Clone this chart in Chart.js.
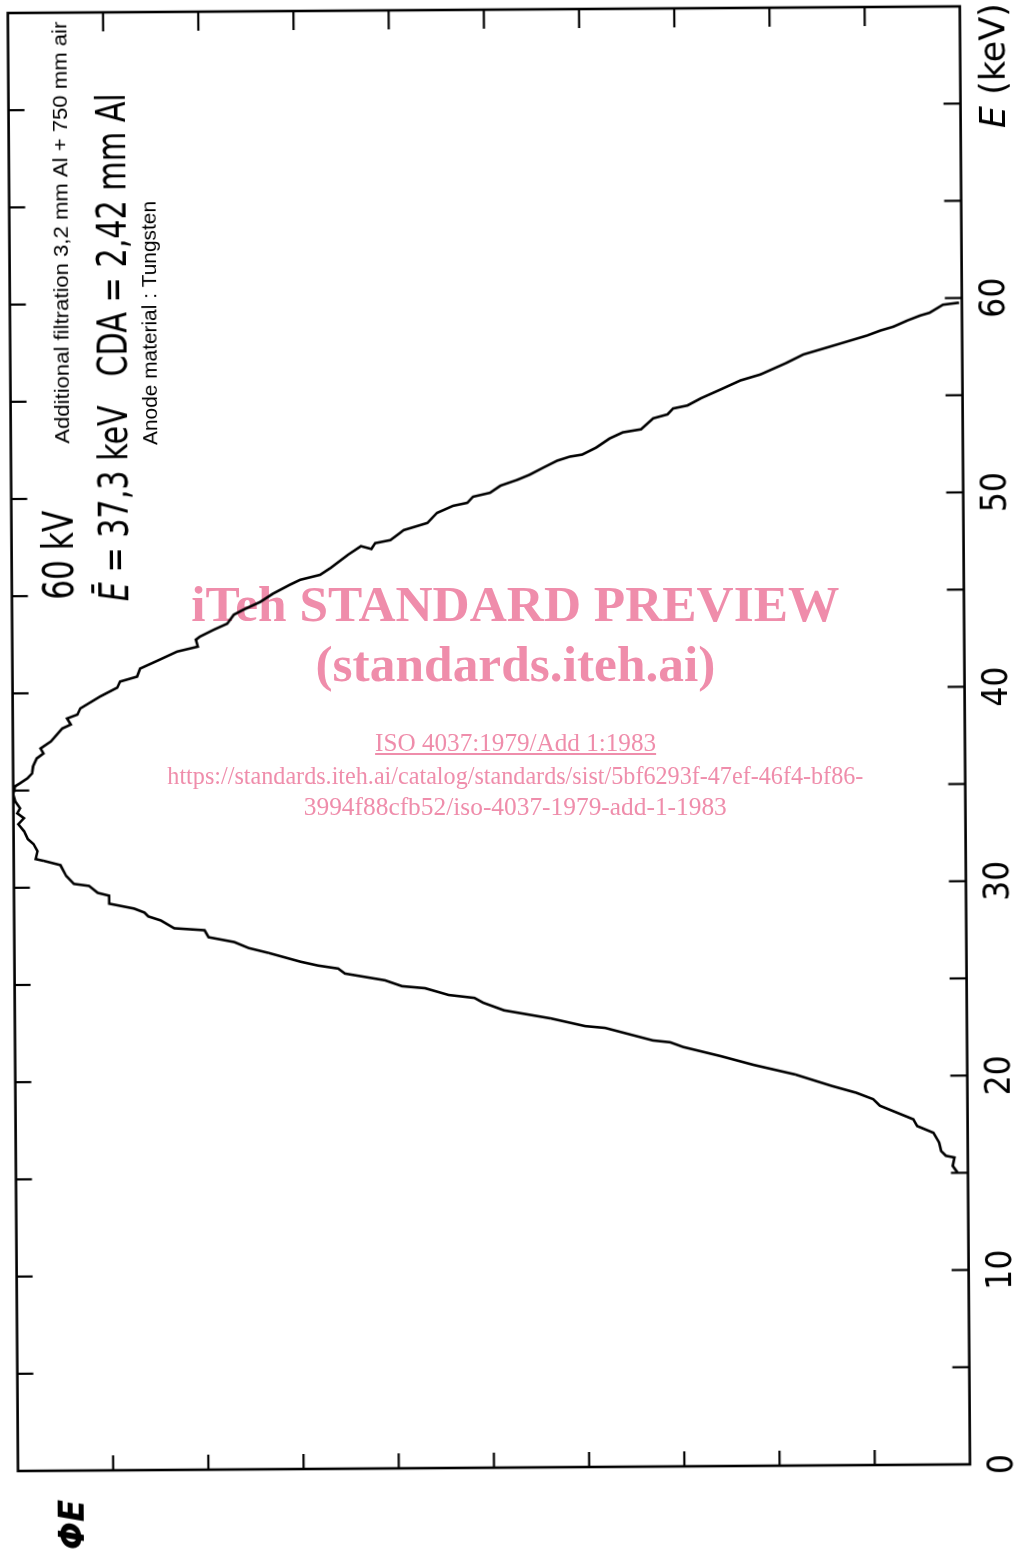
<!DOCTYPE html>
<html>
<head>
<meta charset="utf-8">
<script src="https://cdn.jsdelivr.net/npm/chart.js@4.4.1/dist/chart.umd.min.js"></script>
<style>
html,body{margin:0;padding:0;width:1018px;height:1555px;overflow:hidden;background:#fff;}
#rot{position:absolute;left:0;top:0;width:1555px;height:1040px;transform-origin:0 0;transform:translate(0px,1556.13px) rotate(-90.4deg);}
#c{display:block;width:1555px;height:1040px;}
#wm{position:absolute;left:0;top:0;width:1018px;height:1555px;pointer-events:none;mix-blend-mode:multiply;color:#EF8DAB;font-family:'Liberation Serif','Times New Roman',serif;z-index:2;}
.wl{position:absolute;left:0;width:1031px;text-align:center;white-space:nowrap;line-height:1;}
.wl span{display:inline-block;transform-origin:50% 50%;}
</style>
</head>
<body>
<div id="rot"><canvas id="c" width="1555" height="1040"></canvas></div>
<div id="wm">
  <div class="wl" style="top:579px;font-size:50px;font-weight:bold" data-w="648"><span>iTeh STANDARD PREVIEW</span></div>
  <div class="wl" style="top:639px;font-size:50px;font-weight:bold" data-w="400"><span>(standards.iteh.ai)</span></div>
  <div class="wl" style="top:730px;font-size:25px;" data-w="281"><span style="text-decoration:underline">ISO 4037:1979/Add 1:1983</span></div>
  <div class="wl" style="top:763px;font-size:25px;" data-w="696"><span>https://standards.iteh.ai/catalog/standards/sist/5bf6293f-47ef-46f4-bf86-</span></div>
  <div class="wl" style="top:794px;font-size:25px;" data-w="423"><span>3994f88cfb52/iso-4037-1979-add-1-1983</span></div>
</div>
<script>
// ---- data (E in keV, PhiE in relative units 0..10) ----
const energyKeV = [
15.02,15.36,15.79,15.88,16.13,16.56,17.07,17.42,17.77,18.48,18.82,19.16,19.51,20.12,20.62,21.09,21.57,21.82,21.92,22.58,22.68,23.09,23.52,23.92,
24.17,24.33,24.69,24.80,25.11,25.47,25.73,25.89,26.09,26.56,26.82,27.13,27.39,27.75,27.86,28.27,28.48,28.68,28.89,29.15,29.56,29.71,30.07,30.18,30.59,31.15,
31.37,31.47,31.88,32.24,32.50,32.91,33.27,33.58,33.83,34.09,34.45,34.81,35.22,35.37,35.63,35.88,36.24,36.65,36.90,
37.16,37.52,38.18,38.38,38.69,38.89,39.20,39.81,40.26,40.57,40.82,41.23,41.69,42.09,42.34,42.70,42.85,43.21,43.51,43.97,44.22,44.62,45.03,45.49,45.74,45.99,
46.34,47.00,47.45,47.30,47.60,47.75,48.11,48.26,48.62,49.13,49.49,49.64,49.95,50.15,50.51,50.81,51.07,51.42,51.78,51.98,52.08,52.44,52.90,53.21,
53.36,53.92,54.12,54.42,54.57,54.93,55.38,55.84,56.14,56.74,57.15,57.50,57.70,58.10,58.35,58.55,58.85,59.11,59.25,59.66,59.76
];
const phiE = [
0.11,0.16,0.14,0.23,0.28,0.30,0.36,0.53,0.57,0.92,0.99,1.17,1.42,1.81,2.24,2.59,2.98,3.12,3.30,3.80,4.01,4.37,4.86,5.08,
5.17,5.44,5.69,5.93,6.11,6.53,6.60,6.81,6.99,7.33,7.54,7.69,7.96,8.00,8.32,8.46,8.59,8.63,8.74,9.00,9.00,9.12,9.21,9.37,9.45,9.51,
9.68,9.77,9.75,9.79,9.85,9.89,9.95,9.89,9.96,9.93,9.98,10.0,9.98,9.93,9.85,9.80,9.79,9.75,9.68,
9.71,9.60,9.48,9.39,9.43,9.32,9.29,9.08,8.90,8.87,8.69,8.66,8.45,8.27,8.05,8.07,8.03,7.88,7.74,7.67,7.57,7.39,7.26,7.08,6.97,6.76,
6.65,6.47,6.33,6.22,6.18,6.02,5.92,5.88,5.63,5.53,5.36,5.21,5.15,4.97,4.86,4.68,4.55,4.41,4.26,4.13,4.00,3.85,3.71,3.57,
3.38,3.25,3.10,3.04,2.89,2.75,2.54,2.33,2.12,1.84,1.67,1.42,1.28,1.00,0.86,0.72,0.58,0.44,0.34,0.20,0.03
];
const eAxisMin = 0, eAxisMax = 75, eTickStep = 5;
const eTickLabels = [0, 10, 20, 30, 40, 50, 60];
const phiAxisMin = 0, phiAxisMax = 10, phiTickStep = 1;
const eAxisTitle = ['E', ' (keV)'];
const phiAxisTitle = 'ΦE';
const noteVoltage = '60 kV';
const noteMean = ['Ē', ' = 37,3 keV   CDA = 2,42 mm Al'];
const noteFiltration = 'Additional filtration 3,2 mm Al + 750 mm air';
const noteAnode = 'Anode material : Tungsten';

// ---- watermark fitting ----
document.querySelectorAll('.wl').forEach(d => {
  const s = d.querySelector('span');
  const w = s.getBoundingClientRect().width;
  const t = parseFloat(d.dataset.w);
  if (w > 0) s.style.transform = 'scaleX(' + (t / w) + ')';
});

const points = energyKeV.map((e, i) => ({x: e, y: phiE[i]}));

function drawRuns(ctx, runs, x, y, target) {
  let w = 0;
  runs.forEach(r => { ctx.font = r.font; r.w = ctx.measureText(r.text).width; w += r.w; });
  const s = target ? target / w : 1;
  ctx.save();
  ctx.translate(x, y);
  ctx.scale(s, 1);
  let cx = 0;
  runs.forEach(r => { ctx.font = r.font; ctx.fillText(r.text, cx, 0); cx += r.w; });
  ctx.restore();
}

const framePlugin = {
  id: 'frameTicks',
  afterDatasetsDraw(chart) {
    const {ctx, chartArea: a, scales: {x, y}} = chart;
    ctx.save();
    ctx.strokeStyle = '#000';
    ctx.lineCap = 'butt';
    ctx.lineWidth = 2.6;
    ctx.strokeRect(a.left, a.top, a.right - a.left, a.bottom - a.top);
    ctx.lineWidth = 2.2;
    const ln = (x1, y1, x2, y2) => { ctx.beginPath(); ctx.moveTo(x1, y1); ctx.lineTo(x2, y2); ctx.stroke(); };
    x.ticks.forEach(t => {
      if (t.value <= eAxisMin || t.value >= eAxisMax) return;
      const px = x.getPixelForValue(t.value);
      ln(px, a.bottom, px, a.bottom - 17);
      ln(px, a.top, px, a.top + 16);
    });
    y.ticks.forEach(t => {
      if (t.value <= phiAxisMin || t.value >= phiAxisMax) return;
      const py = y.getPixelForValue(t.value);
      ln(a.left, py, a.left + 15, py);
      ln(a.right, py, a.right - 19, py);
    });
    ctx.restore();
  }
};

const textPlugin = {
  id: 'notes',
  afterDraw(chart) {
    const ctx = chart.ctx;
    ctx.save();
    ctx.fillStyle = '#000';
    ctx.textBaseline = 'alphabetic';
    ctx.textAlign = 'left';
    const cond = '"DejaVu Sans Condensed", "DejaVu Sans", sans-serif';
    drawRuns(ctx, [{text: noteVoltage, font: '43px ' + cond}], 956, 80, 89);
    drawRuns(ctx, [{text: noteMean[0], font: 'italic 40px ' + cond}, {text: noteMean[1], font: '40px ' + cond}], 954, 135, 508);
    drawRuns(ctx, [{text: noteFiltration, font: '20px "Liberation Sans"'}], 1112, 77, 422);
    drawRuns(ctx, [{text: noteAnode, font: '20px "Liberation Sans"'}], 1110, 165, 244);
    drawRuns(ctx, [{text: eAxisTitle[0], font: 'italic 35px ' + cond}, {text: eAxisTitle[1], font: '35px ' + cond}], 1421, 1015, 125);
    drawRuns(ctx, [{text: phiAxisTitle, font: 'bold italic 36px "DejaVu Sans"'}], 6, 84, 50);
    ctx.restore();
  }
};

new Chart(document.getElementById('c'), {
  type: 'scatter',
  data: {
    datasets: [{
      data: points,
      showLine: true,
      borderColor: '#000',
      borderWidth: 2.6,
      pointRadius: 0,
      tension: 0,
      fill: false
    }]
  },
  options: {
    responsive: false,
    animation: false,
    devicePixelRatio: 1,
    layout: {padding: {left: 85, top: 18.6, right: 9, bottom: 0}},
    plugins: {legend: {display: false}, tooltip: {enabled: false}},
    scales: {
      x: {
        type: 'linear', position: 'bottom', min: eAxisMin, max: eAxisMax,
        grid: {display: false, drawTicks: false},
        border: {display: false},
        ticks: {
          stepSize: eTickStep, autoSkip: false, maxRotation: 0, minRotation: 0, padding: 12,
          color: '#000',
          font: {family: '"DejaVu Sans Condensed", "DejaVu Sans", sans-serif', size: 35},
          callback: v => eTickLabels.includes(v) ? String(v) : ''
        },
        afterFit: s => { s.height = 69.4; }
      },
      y: {
        type: 'linear', position: 'left', min: phiAxisMin, max: phiAxisMax,
        grid: {display: false, drawTicks: false},
        border: {display: false},
        ticks: {stepSize: phiTickStep, display: false},
        afterFit: s => { s.width = 0; }
      }
    }
  },
  plugins: [framePlugin, textPlugin]
});
</script>
</body>
</html>
